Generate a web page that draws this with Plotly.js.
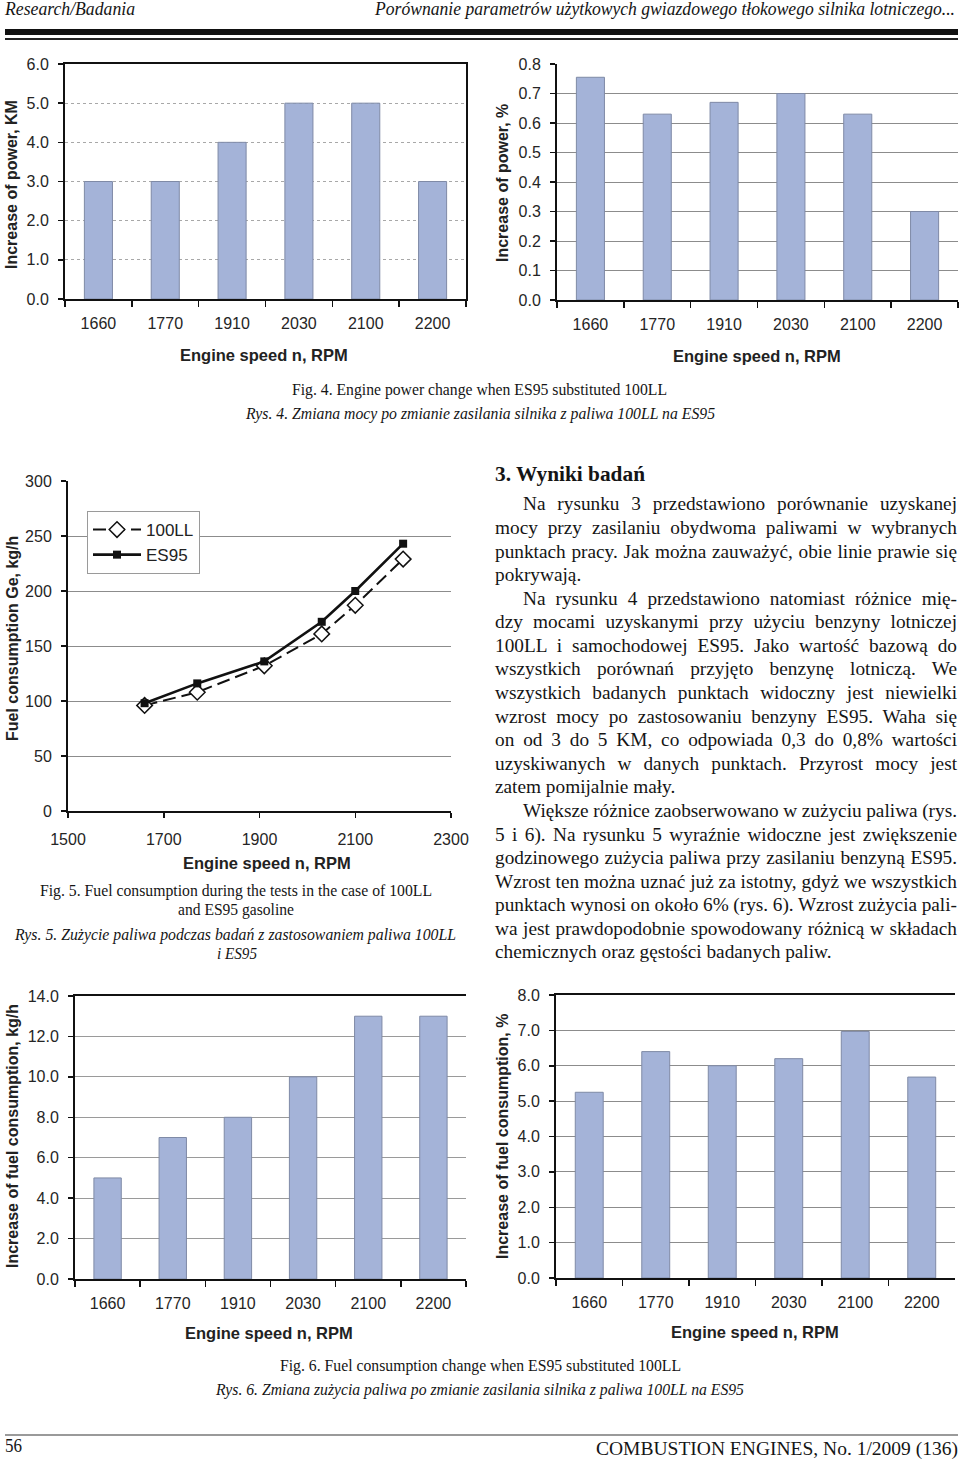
<!DOCTYPE html>
<html>
<head>
<meta charset="utf-8">
<script src="https://cdn.plot.ly/plotly-3.0.1.min.js"></script>
<style>
  html, body { margin:0; padding:0; background:#fff; }
  #page { position:relative; width:960px; height:1461px; overflow:hidden; background:#fff; }
  #plot { position:absolute; left:0; top:0; width:960px; height:1461px; }
  .t { position:absolute; white-space:nowrap; font-family:'Liberation Serif','Times New Roman',serif; color:#151515; transform-origin:0 50%; }
  .rule { position:absolute; }
</style>
</head>
<body>
<div id="page">
  <div id="plot"></div>
</div>
<script>
// ---------------- data ----------------
const rpmCats   = ['1660','1770','1910','2030','2100','2200'];
const powerKM   = [3, 3, 4, 5, 5, 3];
const powerPct  = [0.755, 0.63, 0.67, 0.70, 0.63, 0.30];
const rpmValues = [1660, 1770, 1910, 2030, 2100, 2200];
const ge100LL   = [96, 108, 132, 161, 187, 229];
const geES95    = [98, 116, 136, 172, 200, 243];
const fuelKg    = [5, 7, 8, 10, 13, 13];
const fuelPct   = [5.25, 6.4, 6.0, 6.2, 6.97, 5.68];
const seriesNames = ['100LL', 'ES95'];
const xTitle = 'Engine speed n, RPM';
const yTitles = ['Increase of power, KM', 'Increase of power, %', 'Fuel consumption Ge, kg/h',
                 'Increase of fuel consumption, kg/h', 'Increase of fuel consumption, %'];

// ---------------- geometry helpers ----------------
const W = 960, H = 1461;
const xd = (a, b) => [a / W, b / W];
const yd = (top, bottom) => [1 - bottom / H, 1 - top / H];

const SANS = 'Liberation Sans, Arial, sans-serif';
const tickFont = {family: SANS, size: 16, color: '#252525'};
const BAR_FILL = '#a4b3d8', BAR_LINE = '#7f8aa6';

function xCat(domain, anchor, mirror) {
  return {type:'category', domain, anchor, range:[-0.5, 5.5], showline:true, linecolor:'#111', linewidth:2,
    mirror: mirror, ticks:'outside', tickson:'boundaries', ticklen:6, tickwidth:1.5, tickcolor:'#111',
    showgrid:false, zeroline:false, tickfont:tickFont, ticklabelstandoff:9, automargin:false, fixedrange:true};
}
function yLin(domain, anchor, range, dtick, fmt, gridcolor, griddash, mirror) {
  return {domain, anchor, range, dtick, tick0:0, tickformat:fmt, showline:true, linecolor:'#111', linewidth:2,
    mirror: mirror, ticks:'outside', ticklen:5, tickwidth:1.5, tickcolor:'#111', showgrid:true, gridcolor, gridwidth:1,
    griddash: griddash, zeroline:false, tickfont:tickFont, ticklabelstandoff:6, automargin:false, fixedrange:true};
}

const barTrace = (y, xa, ya) => ({type:'bar', x:rpmCats, y, xaxis:xa, yaxis:ya, width:0.42, showlegend:false,
  marker:{color:BAR_FILL, line:{color:BAR_LINE, width:1}}, hoverinfo:'skip'});

const traces = [
  barTrace(powerKM, 'x', 'y'),
  barTrace(powerPct, 'x2', 'y2'),
  {type:'scatter', mode:'lines+markers', name:seriesNames[0], x:rpmValues, y:ge100LL, xaxis:'x3', yaxis:'y3',
   line:{color:'#111', width:2, dash:'13px,6px'},
   marker:{symbol:'diamond', size:12, color:'#fff', line:{color:'#111', width:1.5}}},
  {type:'scatter', mode:'lines+markers', name:seriesNames[1], x:rpmValues, y:geES95, xaxis:'x3', yaxis:'y3',
   line:{color:'#111', width:2.6}, marker:{symbol:'square', size:8, color:'#111'}},
  barTrace(fuelKg, 'x4', 'y4'),
  barTrace(fuelPct, 'x5', 'y5')
];

const layout = {
  width: W, height: H, margin:{l:0, r:0, t:0, b:0}, paper_bgcolor:'#fff', plot_bgcolor:'rgba(0,0,0,0)',
  font:{family:SANS, color:'#222'}, bargap:0.58, showlegend:true,
  xaxis:  xCat(xd(65, 466), 'y', true),
  yaxis:  yLin(yd(64, 299), 'x', [0, 6], 1, '.1f', '#a8a8a8', 'dot', true),
  xaxis2: xCat(xd(557, 958), 'y2', false),
  yaxis2: yLin(yd(64, 300), 'x2', [0, 0.8], 0.1, '.1f', '#8c8c8c', 'solid', false),
  xaxis3: {domain:xd(68, 451), anchor:'y3', range:[1500, 2300], dtick:200, tick0:1500, showline:true, linecolor:'#111',
           linewidth:2, ticks:'outside', ticklen:5, tickwidth:1.5, tickcolor:'#111', showgrid:false, zeroline:false,
           tickfont:tickFont, ticklabelstandoff:8, automargin:false, fixedrange:true},
  yaxis3: yLin(yd(481, 811), 'x3', [0, 300], 50, 'd', '#8c8c8c', 'solid', false),
  xaxis4: xCat(xd(75, 466), 'y4', true),
  yaxis4: yLin(yd(996, 1279), 'x4', [0, 14], 2, '.1f', '#9a9a9a', 'solid', false),
  xaxis5: xCat(xd(556, 955), 'y5', true),
  yaxis5: yLin(yd(995, 1278), 'x5', [0, 8], 1, '.1f', '#8c8c8c', 'solid', false),
  legend: {x:87/W, y:1-511/H, xanchor:'left', yanchor:'top', bgcolor:'#fff', bordercolor:'#9a9a9a', borderwidth:1,
           font:{family:SANS, size:17, color:'#222'}, itemwidth:48, tracegroupgap:0},
  annotations: []
};

// axis titles
const yTitlePos = [[11, 185], [502, 183], [12, 639], [12, 1136], [502, 1137]];
const xTitlePos = [[264, 355], [757, 356], [267, 863], [269, 1333], [755, 1332]];
yTitlePos.forEach((p, i) => layout.annotations.push({text:yTitles[i], xref:'paper', yref:'paper', x:p[0]/W, y:1-p[1]/H,
  xanchor:'center', yanchor:'middle', textangle:-90, showarrow:false, font:{family:SANS, size:16, color:'#222', weight:'bold'}}));
xTitlePos.forEach((p) => layout.annotations.push({text:xTitle, xref:'paper', yref:'paper', x:p[0]/W, y:1-p[1]/H,
  xanchor:'center', yanchor:'middle', showarrow:false, font:{family:SANS, size:16.5, color:'#222', weight:'bold'}}));

Plotly.newPlot('plot', traces, layout, {staticPlot:true});

// ---------------- page text ----------------
const page = document.getElementById('page');
function rule(x, y, w, h, c) {
  const d = document.createElement('div'); d.className = 'rule';
  Object.assign(d.style, {left:x+'px', top:y+'px', width:w+'px', height:h+'px', background:c});
  page.appendChild(d);
}
rule(5, 29, 953, 6, '#111');
rule(5, 38, 953, 2, '#222');
rule(5, 1434, 953, 2, '#9a9a9a');

// [text, left, centerY, width(or null), size, style, weight]
const fitLines = [
  ['Research/Badania', 5, 10, 130, 18, 'italic', 'normal'],
  ['Porównanie parametrów użytkowych gwiazdowego tłokowego silnika lotniczego...', 375, 10, 580, 18, 'italic', 'normal'],
  ['Fig. 4. Engine power change when ES95 substituted 100LL', 292, 390, 375, 16.5, 'normal', 'normal'],
  ['Rys. 4. Zmiana mocy po zmianie zasilania silnika z paliwa 100LL na ES95', 246, 414, 469, 16.5, 'italic', 'normal'],
  ['Fig. 5. Fuel consumption during the tests in the case of 100LL', 40, 891, 392, 16.5, 'normal', 'normal'],
  ['and ES95 gasoline', 178, 910, 116, 16.5, 'normal', 'normal'],
  ['Rys. 5. Zużycie paliwa podczas badań z zastosowaniem paliwa 100LL', 15, 935, 441, 16.5, 'italic', 'normal'],
  ['i ES95', 217, 954, 40, 16.5, 'italic', 'normal'],
  ['Fig. 6. Fuel consumption change when ES95 substituted 100LL', 280, 1366, 401, 16.5, 'normal', 'normal'],
  ['Rys. 6. Zmiana zużycia paliwa po zmianie zasilania silnika z paliwa 100LL na ES95', 216, 1390, 528, 16.5, 'italic', 'normal'],
  ['56', 5, 1447, 17, 18, 'normal', 'normal'],
  ['COMBUSTION ENGINES, No. 1/2009 (136)', 596, 1449, 362, 19.5, 'normal', 'normal'],
  ['3. Wyniki badań', 495, 474, 150, 20, 'normal', 'bold']
];

// paragraph lines: [text, indent, justify]
const paraLines = [
  ['Na rysunku 3 przedstawiono porównanie uzyskanej', true, true],
  ['mocy przy zasilaniu obydwoma paliwami w wybranych', false, true],
  ['punktach pracy. Jak można zauważyć, obie linie prawie się', false, true],
  ['pokrywają.', false, false],
  ['Na rysunku 4 przedstawiono natomiast różnice mię-', true, true],
  ['dzy mocami uzyskanymi przy użyciu benzyny lotniczej', false, true],
  ['100LL i samochodowej ES95. Jako wartość bazową do', false, true],
  ['wszystkich porównań przyjęto benzynę lotniczą. We', false, true],
  ['wszystkich badanych punktach widoczny jest niewielki', false, true],
  ['wzrost mocy po zastosowaniu benzyny ES95. Waha się', false, true],
  ['on od 3 do 5 KM, co odpowiada 0,3 do 0,8% wartości', false, true],
  ['uzyskiwanych w danych punktach. Przyrost mocy jest', false, true],
  ['zatem pomijalnie mały.', false, false],
  ['Większe różnice zaobserwowano w zużyciu paliwa (rys.', true, true],
  ['5 i 6). Na rysunku 5 wyraźnie widoczne jest zwiększenie', false, true],
  ['godzinowego zużycia paliwa przy zasilaniu benzyną ES95.', false, true],
  ['Wzrost ten można uznać już za istotny, gdyż we wszystkich', false, true],
  ['punktach wynosi on około 6% (rys. 6). Wzrost zużycia pali-', false, true],
  ['wa jest prawdopodobnie spowodowany różnicą w składach', false, true],
  ['chemicznych oraz gęstości badanych paliw.', false, false]
];

function makeSpan(text, left, cy, size, style, weight) {
  const s = document.createElement('div'); s.className = 't';
  s.textContent = text;
  Object.assign(s.style, {left:left+'px', top:(cy - size*0.6)+'px', fontSize:size+'px', lineHeight:(size*1.2)+'px',
    fontStyle:style, fontWeight:weight});
  page.appendChild(s);
  return s;
}

function layoutText() {
  fitLines.forEach(([t, x, y, w, size, st, wt]) => {
    const s = makeSpan(t, x, y, size, st, wt);
    const nat = s.getBoundingClientRect().width;
    if (w && nat > 0) s.style.transform = 'scaleX(' + (w / nat).toFixed(4) + ')';
  });
  const left = 495, right = 957, indent = 28, size = 19.3, y0 = 504, dy = 23.58;
  paraLines.forEach(([t, ind, just], i) => {
    const x = left + (ind ? indent : 0);
    const s = makeSpan(t, x, y0 + i * dy, size, 'normal', 'normal');
    if (!just) return;
    const target = right - x;
    const nat = s.getBoundingClientRect().width;
    const nSp = (t.match(/ /g) || []).length;
    let ws = (target - nat) / nSp;
    if (ws < -2.2) ws = -2.2;
    s.style.wordSpacing = ws + 'px';
    const w2 = s.getBoundingClientRect().width;
    if (Math.abs(w2 - target) > 0.5) s.style.transform = 'scaleX(' + (target / w2).toFixed(4) + ')';
  });
}
if (document.fonts && document.fonts.ready) document.fonts.ready.then(layoutText); else layoutText();
</script>
</body>
</html>
